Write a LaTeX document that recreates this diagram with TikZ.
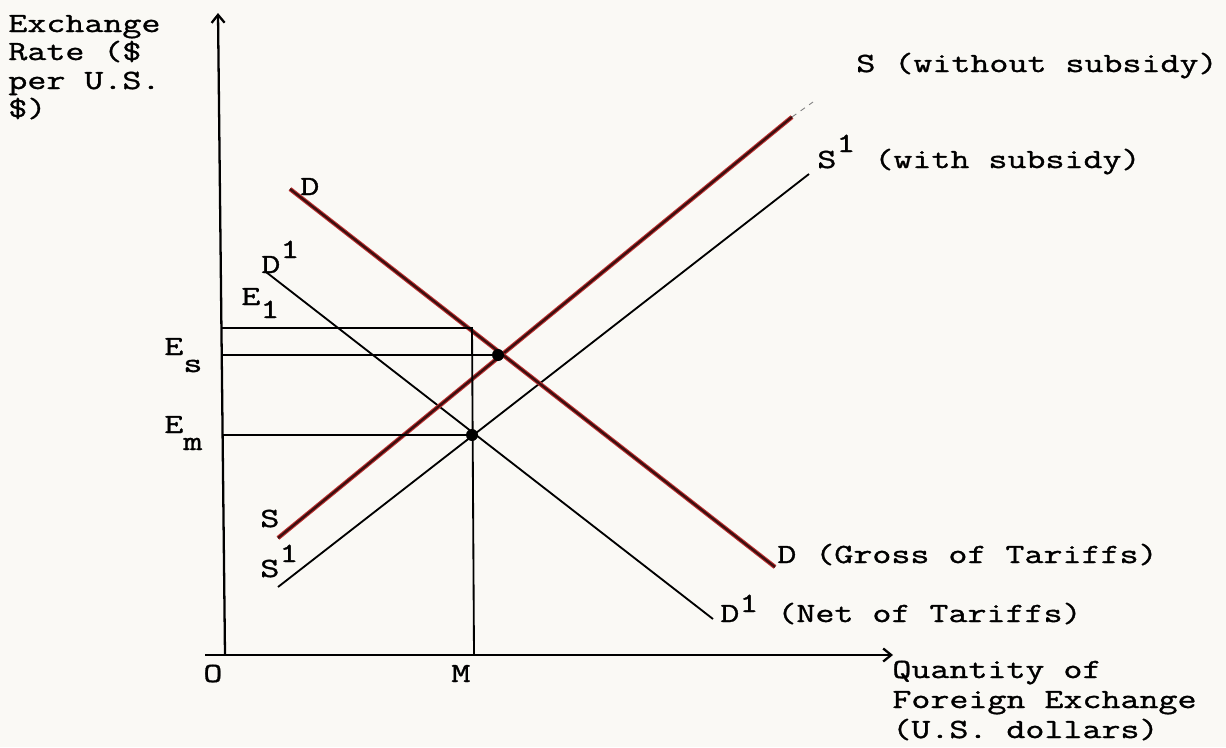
\documentclass[tikz,border=0pt]{standalone}
\usepackage{fontspec}
\usetikzlibrary{arrows.meta}
\newfontfamily\tw[FakeStretch=1.33,FakeBold=1.2]{Latin Modern Mono}
\newcommand{\rs}[2]{\raisebox{#1}{#2}}
\definecolor{paper}{RGB}{250,249,245}
\definecolor{redink}{RGB}{190,50,50}
\definecolor{darkink}{RGB}{60,15,15}
\begin{document}
\begin{tikzpicture}[x=0.02cm,y=-0.02cm,
  lab/.style={font=\tw\fontsize{15.8}{16}\selectfont, inner sep=0pt, anchor=base west},
  axisline/.style={line width=1.3pt, -{Straight Barb[length=0.16cm,width=0.26cm]}},
  thinline/.style={line width=1.05pt},
  redline/.style={draw=darkink, line width=1.3pt, preaction={draw=redink, line width=2.5pt}},
  dot/.style={circle, fill=black, inner sep=0pt, minimum size=0.24cm},
  fade/.style={gray, dashed, line width=0.5pt}]
\fill[paper] (0,0) rectangle (1226,747);
\useasboundingbox (0,0) rectangle (1226,747);
% axes
\coordinate (O) at (225,655);
\coordinate (ytip) at (218,13);
\coordinate (xstart) at (205,655);
\coordinate (xtip) at (893,655);
\draw[axisline] (O) -- (ytip);
\draw[axisline] (xstart) -- (xtip);
% curves
\coordinate (s0) at (278,538);
\coordinate (s1) at (792,117);
\coordinate (s2) at (813,102);
\coordinate (t0) at (278,587);
\coordinate (t1) at (809,174);
\coordinate (d0) at (290,189);
\coordinate (d1) at (775,567);
\coordinate (n0) at (266,272);
\coordinate (n1) at (713,619);
\draw[thinline] (t0) -- (t1);
\draw[thinline] (n0) -- (n1);
\draw[redline] (s0) -- (s1);
\draw[fade] (s1) -- (s2);
\draw[redline] (d0) -- (d1);
% guide lines and equilibrium points
\coordinate (e1a) at (222,328);
\coordinate (e1b) at (472,328);
\coordinate (esa) at (222,355);
\coordinate (ema) at (223,435);
\coordinate (mb) at (474,655);
\node[dot] (es) at (498,355) {};
\node[dot] (em) at (472,435) {};
\draw[thinline] (e1a) -- (e1b) -- (mb);
\draw[thinline] (esa) -- (es.center);
\draw[thinline] (ema) -- (em.center);
% labels
\node[lab] (yl1) at (8,32) {Exchange};
\node[lab] (yl2) at (8,60) {Rate (\$};
\node[lab] (yl3) at (8,89) {per U.S.};
\node[lab] (yl4) at (8,117) {\$)};
\node[lab] (lD) at (300,195) {D};
\node[lab] (lD1) at (261,273) {D\rs{0.3cm}{1}};
\node[lab] (lE1) at (241,305) {E\rs{-0.26cm}{1}};
\node[lab] (lEs) at (164,355) {E\rs{-0.34cm}{s}};
\node[lab] (lEm) at (164,433) {E\rs{-0.34cm}{m}};
\node[lab] (lS) at (260,527) {S};
\node[lab] (lS1) at (260,577) {S\rs{0.3cm}{1}};
\node[lab] (lO) at (203,682) {O};
\node[lab] (lM) at (451,682) {M};
\node[lab] (lSw) at (856,72) {S (without subsidy)};
\node[lab] (lSs) at (817,168) {S\rs{0.32cm}{1} (with subsidy)};
\node[lab] (lDg) at (777,563) {D (Gross of Tariffs)};
\node[lab] (lDn) at (720,622) {D\rs{0.2cm}{1} (Net of Tariffs)};
\node[lab] (xl1) at (892,678) {Quantity of};
\node[lab] (xl2) at (892,708) {Foreign Exchange};
\node[lab] (xl3) at (892,738) {(U.S. dollars)};
\end{tikzpicture}
\end{document}
